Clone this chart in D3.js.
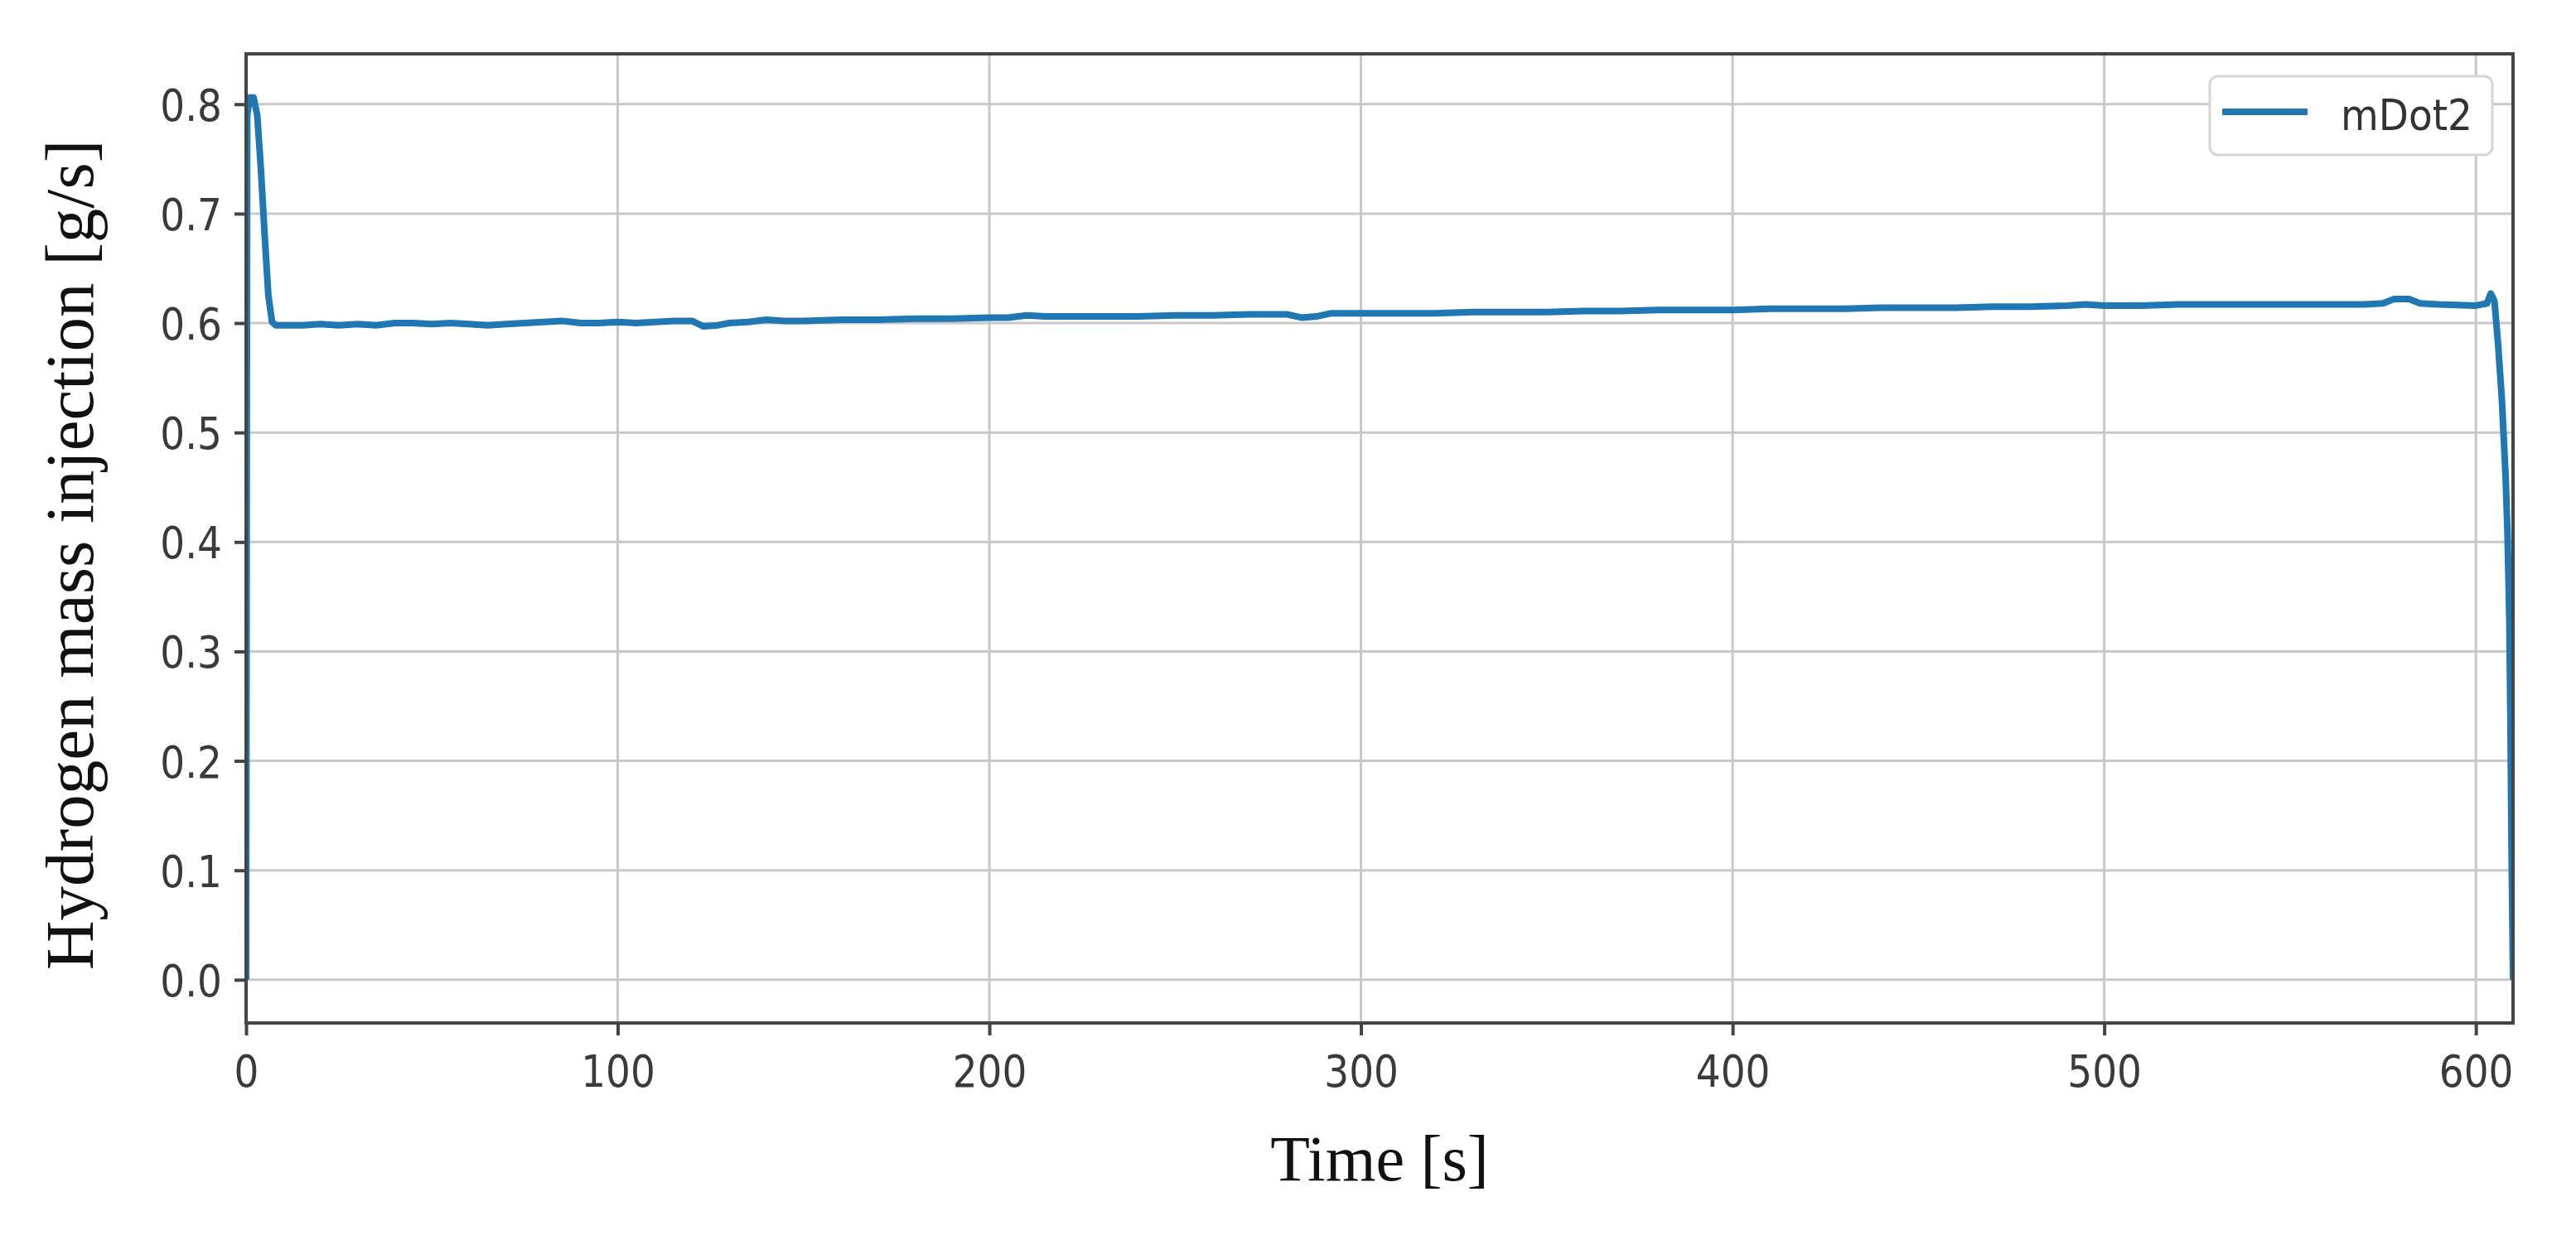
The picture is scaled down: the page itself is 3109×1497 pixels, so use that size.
<!DOCTYPE html>
<html>
<head>
<meta charset="utf-8">
<script src="https://cdnjs.cloudflare.com/ajax/libs/d3/7.8.5/d3.min.js"></script>
<style>
  html, body { margin: 0; padding: 0; background: #fff; }
  svg { display: block; }
</style>
</head>
<body>
<div id="chart"></div>
<script>
// mDot2 series (time in s, value in g/s)
var timeS = [0, 0.3, 1, 2, 3, 4, 5, 6, 7, 8, 10, 15, 20, 25, 30, 35, 40, 45, 50, 55,
  60, 65, 70, 75, 80, 85, 90, 95, 100, 105, 110, 115, 120, 123, 127, 130, 135, 140, 145, 150,
  160, 170, 180, 190, 200, 205, 210, 215, 220, 230, 240, 250, 260, 270, 280, 284, 288, 292, 300, 310,
  320, 330, 340, 350, 360, 370, 380, 390, 400, 410, 420, 430, 440, 450, 460, 470, 480, 490, 495, 500,
  510, 520, 530, 540, 550, 560, 570, 575, 578, 582, 585, 590, 600, 603, 604, 605, 606, 607, 608, 608.5,
  609, 609.3, 609.6, 610];
var mDot2 = [0.0, 0.79, 0.806, 0.806, 0.79, 0.74, 0.68, 0.625, 0.601, 0.598, 0.598, 0.598, 0.599, 0.598, 0.599, 0.598, 0.600, 0.600, 0.599, 0.600,
  0.599, 0.598, 0.599, 0.600, 0.601, 0.602, 0.600, 0.600, 0.601, 0.600, 0.601, 0.602, 0.602, 0.597, 0.598, 0.600, 0.601, 0.603, 0.602, 0.602,
  0.603, 0.603, 0.604, 0.604, 0.605, 0.605, 0.607, 0.606, 0.606, 0.606, 0.606, 0.607, 0.607, 0.608, 0.608, 0.605, 0.606, 0.609, 0.609, 0.609,
  0.609, 0.610, 0.610, 0.610, 0.611, 0.611, 0.612, 0.612, 0.612, 0.613, 0.613, 0.613, 0.614, 0.614, 0.614, 0.615, 0.615, 0.616, 0.617, 0.616,
  0.616, 0.617, 0.617, 0.617, 0.617, 0.617, 0.617, 0.618, 0.622, 0.622, 0.618, 0.617, 0.616, 0.618, 0.627, 0.620, 0.580, 0.530, 0.460, 0.410,
  0.330, 0.240, 0.120, 0.0];

var xTicks = [0, 100, 200, 300, 400, 500, 600];
var yTicks = [0.0, 0.1, 0.2, 0.3, 0.4, 0.5, 0.6, 0.7, 0.8];
var seriesName = "mDot2";
var xTitle = "Time [s]";
var yTitle = "Hydrogen mass injection [g/s]";

var width = 3109,
    height = 1497,
    margin = {top: 65, right: 76, bottom: 262, left: 297};

var points = timeS.map(function(t, i) { return {t: t, v: mDot2[i]}; });

var x = d3.scaleLinear()
  .domain([0, 610])
  .range([margin.left, width - margin.right]);

var y = d3.scaleLinear()
  .domain([-0.0395, 0.846])
  .range([height - margin.bottom, margin.top]);

var svg = d3.select("#chart").append("svg")
  .attr("width", width)
  .attr("height", height);

svg.append("rect")
  .attr("width", width)
  .attr("height", height)
  .attr("fill", "#fff");

// grid
svg.append("g")
  .selectAll("line.gx")
  .data(xTicks)
  .enter().append("line")
  .attr("x1", function(d) { return x(d); })
  .attr("x2", function(d) { return x(d); })
  .attr("y1", y.range()[1])
  .attr("y2", y.range()[0])
  .attr("stroke", "#c8c8c8")
  .attr("stroke-width", 3);

svg.append("g")
  .selectAll("line.gy")
  .data(yTicks)
  .enter().append("line")
  .attr("x1", x.range()[0])
  .attr("x2", x.range()[1])
  .attr("y1", function(d) { return y(d); })
  .attr("y2", function(d) { return y(d); })
  .attr("stroke", "#c8c8c8")
  .attr("stroke-width", 3);

// the line
svg.append("clipPath").attr("id", "clip")
  .append("rect")
  .attr("x", x.range()[0])
  .attr("y", y.range()[1])
  .attr("width", x.range()[1] - x.range()[0])
  .attr("height", y.range()[0] - y.range()[1]);

var line = d3.line()
  .x(function(d) { return x(d.t); })
  .y(function(d) { return y(d.v); });

svg.append("path")
  .datum(points)
  .attr("d", line)
  .attr("clip-path", "url(#clip)")
  .attr("fill", "none")
  .attr("stroke", "#1f77b4")
  .attr("stroke-width", 8)
  .attr("stroke-linejoin", "round");

// axes
var xAxis = d3.axisBottom(x)
  .tickValues(xTicks)
  .tickFormat(d3.format("d"))
  .tickSizeInner(15)
  .tickSizeOuter(0)
  .tickPadding(19);

var yAxis = d3.axisLeft(y)
  .tickValues(yTicks)
  .tickFormat(d3.format(".1f"))
  .tickSizeInner(14)
  .tickSizeOuter(0)
  .tickPadding(15);

var gx = svg.append("g")
  .attr("transform", "translate(0," + y.range()[0] + ")")
  .call(xAxis);

var gy = svg.append("g")
  .attr("transform", "translate(" + x.range()[0] + ",0)")
  .call(yAxis);

[gx, gy].forEach(function(g) {
  g.select(".domain").remove();
  g.selectAll(".tick line").attr("stroke", "#444").attr("stroke-width", 4);
  g.selectAll(".tick text")
    .attr("fill", "#3a3a3a")
    .style("font-family", "'DejaVu Sans', sans-serif")
    .style("font-size", "47px")
    .attr("transform", "scale(1,1.15)");
});
gy.selectAll(".tick text").attr("dy", "0.36em");

// frame
svg.append("rect")
  .attr("x", x.range()[0])
  .attr("y", y.range()[1])
  .attr("width", x.range()[1] - x.range()[0])
  .attr("height", y.range()[0] - y.range()[1])
  .attr("fill", "none")
  .attr("stroke", "#444")
  .attr("stroke-width", 4);

// legend
var legend = svg.append("g");
legend.append("rect")
  .attr("x", 2667).attr("y", 92)
  .attr("width", 341).attr("height", 95)
  .attr("rx", 10)
  .attr("fill", "#fff")
  .attr("stroke", "#d6d6d6")
  .attr("stroke-width", 3);
legend.append("line")
  .attr("x1", 2682).attr("x2", 2785)
  .attr("y1", 135).attr("y2", 135)
  .attr("stroke", "#1f77b4")
  .attr("stroke-width", 8);
legend.append("text")
  .attr("transform", "translate(2825,157) scale(1,1.1)")
  .attr("fill", "#333")
  .style("font-family", "'DejaVu Sans', sans-serif")
  .style("font-size", "47px")
  .text(seriesName);

// titles
svg.append("text")
  .attr("x", (x.range()[0] + x.range()[1]) / 2)
  .attr("y", 1425)
  .attr("text-anchor", "middle")
  .attr("fill", "#111")
  .style("font-family", "'Liberation Serif', 'Times New Roman', serif")
  .style("font-size", "78px")
  .text(xTitle);

svg.append("text")
  .attr("transform", "translate(112,670) rotate(-90)")
  .attr("text-anchor", "middle")
  .attr("fill", "#111")
  .style("font-family", "'Liberation Serif', 'Times New Roman', serif")
  .style("font-size", "83px")
  .text(yTitle);
</script>
</body>
</html>
